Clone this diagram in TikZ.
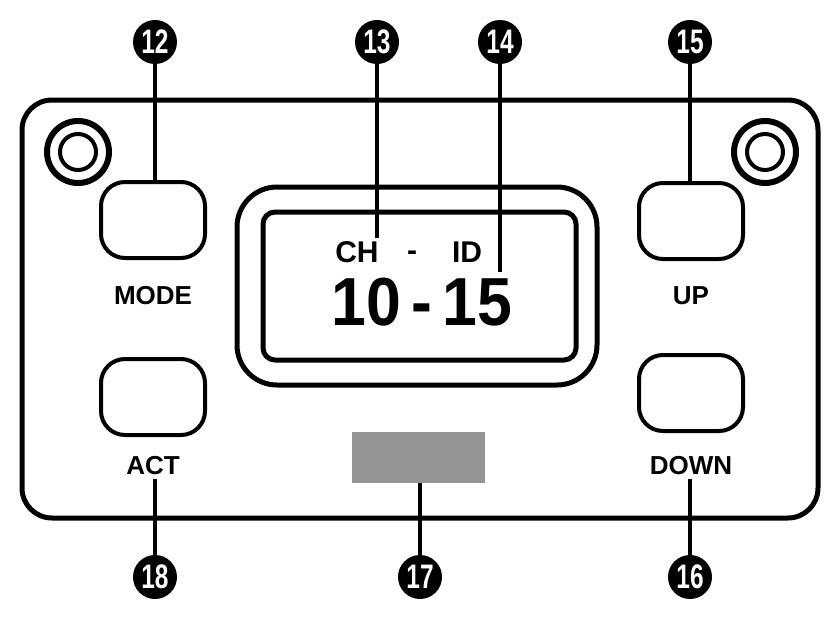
\documentclass[tikz,border=0pt]{standalone}
\usepackage{fontspec}
\setmainfont{Liberation Sans}
\begin{document}
\begin{tikzpicture}[x=1pt,y=-1pt,
  btn/.style={draw,line width=4,rounded corners=24,minimum width=104,minimum height=76},
  lbl/.style={font=\fontsize{26}{26}\selectfont\bfseries},
  badge/.style={circle,fill=black,text=white,minimum size=44,inner sep=0,font=\fontsize{34}{34}\selectfont\bfseries},
  lead/.style={line width=3.5}]
\useasboundingbox (0,0) rectangle (833,624);
\draw[line width=5,rounded corners=30] (22,100) rectangle (818,518);
\foreach \cx/\nm in {78/kl,765/kr}{
  \draw[line width=6] (\cx,152) circle (31);
  \draw[line width=4] (\cx,152) circle (18);
}
\node[btn] (mode) at (153,220) {};
\node[btn] (up) at (691,221) {};
\node[btn] (act) at (153,397) {};
\node[btn] (down) at (691,393) {};
\node[lbl] (lmode) at (153,296) {MODE};
\node[lbl] (lup) at (691,296) {UP};
\node[lbl] (lact) at (153,466) {ACT};
\node[lbl] (ldown) at (691,466) {DOWN};
\draw[line width=5,rounded corners=40] (237,187) rectangle (597,385);
\draw[line width=5,rounded corners=12] (263,212) rectangle (576,360);
\node[font=\fontsize{30}{30}\selectfont\bfseries] (ch) at (357,252) {CH};
\node[font=\fontsize{30}{30}\selectfont\bfseries] (dash) at (412,256) {-};
\node[font=\fontsize{30}{30}\selectfont\bfseries] (id) at (467,252) {ID};
\node[font=\fontsize{68}{68}\selectfont\bfseries,xscale=0.92] (val) at (422,302) {10\,-\,15};
\node[fill=black!42,minimum width=133,minimum height=51,inner sep=0] (grey) at (418,457) {};
\foreach \n/\x/\y in {12/155/42,13/377/42,14/500/42,15/690/42,18/155/577,17/420/577,16/690/577}{
  \node[badge] (b\n) at (\x,\y) {\scalebox{0.72}[1]{\n}};
}
\coordinate (c13) at (377,238);
\coordinate (c14) at (500,272);
\draw[lead] (b12) -- (mode.north -| b12);
\draw[lead] (b13) -- (c13);
\draw[lead] (b14) -- (c14);
\draw[lead] (b15) -- (up.north -| b15);
\draw[lead] (b18) -- (lact.south -| b18);
\draw[lead] (b17) -- (grey.south -| b17);
\draw[lead] (b16) -- (ldown.south -| b16);
\end{tikzpicture}
\end{document}
